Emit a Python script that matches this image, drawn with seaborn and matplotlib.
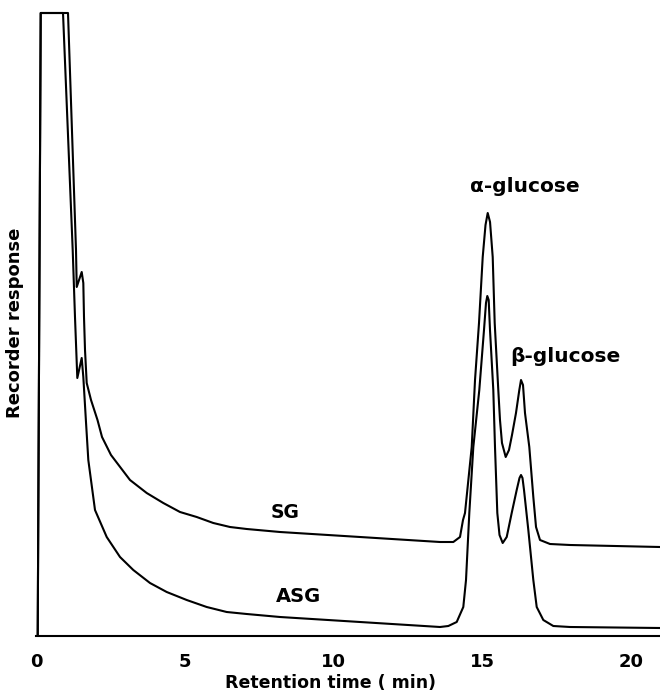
import matplotlib
matplotlib.use("Agg")
import matplotlib.pyplot as plt
import seaborn as sns
import numpy as np
import pandas as pd

# -------------------------
# Chromatogram traces (time in min, recorder response in chart units)
# -------------------------

sg_time = [
    0.044, 0.145, 1.063, 1.332, 1.356, 1.524, 1.578, 1.601, 1.635, 1.692,
    1.837, 2.055, 2.207, 2.509, 3.148, 3.710, 4.268, 4.830, 5.392, 5.950,
    6.512, 7.074, 8.194, 13.576, 14.023, 14.248, 14.349, 14.416, 14.642,
    14.753, 14.887, 15.012, 15.106, 15.180, 15.258, 15.348, 15.415, 15.536,
    15.593, 15.660, 15.785, 15.896, 15.997, 16.131, 16.243, 16.300, 16.367,
    16.434, 16.579, 16.714, 16.805, 16.939, 17.276, 17.949, 20.975
]
sg_resp = [
    0, 623, 623, 386, 349, 364, 353, 319, 286, 253,
    236, 216, 199, 181, 156, 143, 133, 124, 119, 113,
    109, 107, 104, 94, 94, 99, 116, 123, 189,
    256, 313, 379, 411, 423, 414, 379, 313, 246,
    216, 193, 179, 186, 201, 223, 246, 256, 251,
    223, 189, 139, 109, 96, 92, 91, 89
]

asg_time = [
    0.044, 0.145, 0.895, 1.221, 1.298, 1.376, 1.524, 1.578, 1.668, 1.746,
    1.971, 2.365, 2.812, 3.259, 3.821, 4.383, 5.056, 5.728, 6.401, 7.074,
    8.194, 13.576, 13.855, 14.137, 14.359, 14.450, 14.561, 14.696, 14.897,
    15.055, 15.122, 15.166, 15.213, 15.257, 15.368, 15.425, 15.503, 15.577,
    15.684, 15.819, 15.987, 16.155, 16.249, 16.300, 16.350, 16.401, 16.546,
    16.714, 16.828, 17.050, 17.386, 17.948, 20.975
]
asg_resp = [
    0, 623, 623, 386, 319, 258, 278, 259, 214, 176,
    126, 99, 79, 66, 53, 44, 36, 29, 24, 22,
    19, 9, 10, 14, 29, 56, 123, 189, 246,
    306, 333, 340, 336, 306, 246, 189, 123, 101,
    93, 99, 123, 146, 158, 161, 158, 146, 106,
    56, 29, 16, 10, 9, 8
]

x_ticks = [0, 5, 10, 15, 20]

sg = pd.DataFrame({'time': sg_time, 'resp': sg_resp, 'sample': 'SG'})
asg = pd.DataFrame({'time': asg_time, 'resp': asg_resp, 'sample': 'ASG'})

sns.set_style('white')
plt.rcParams['font.family'] = ['DejaVu Sans']
plt.rcParams['text.color'] = 'black'

fig = plt.figure(figsize=(6.6, 6.91), dpi=100)
ax = fig.add_axes([36.4 / 660, 55 / 691, 623.6 / 660, 636 / 691])

for df in (sg, asg):
    sns.lineplot(
        data=df,
        x='time',
        y='resp',
        sort=False,
        estimator=None,
        color='black',
        linewidth=1.5,
        ax=ax
    )

ax.set_xlim(0, 20.975)
ax.set_ylim(0, 636)

for side in ('top', 'right', 'left'):
    ax.spines[side].set_visible(False)
ax.spines['bottom'].set_linewidth(1.5)
ax.spines['bottom'].set_color('black')

ax.set_xticks(x_ticks)
ax.set_xticklabels([str(t) for t in x_ticks], fontsize=13, fontweight='bold')
ax.set_yticks([])
ax.tick_params(axis='x', direction='in', length=12, width=1.3, pad=12,
               colors='black')

ax.set_xlabel('Retention time ( min)', fontsize=12.5, fontweight='bold',
              color='black')
ax.set_ylabel('Recorder response', fontsize=13, fontweight='bold',
              color='black')
ax.xaxis.set_label_coords(0.472, -0.074)
ax.xaxis.label.set_va('center')
ax.yaxis.set_label_coords(-0.034, 0.492)
ax.yaxis.label.set_va('center')

# -------------------------
# Peak and trace labels
# -------------------------

ax.text(16.43, 449, 'α-glucose', fontsize=14.5, fontweight='bold',
        ha='center', va='center')
ax.text(17.78, 279, 'β-glucose', fontsize=14.5, fontweight='bold',
        ha='center', va='center')
ax.text(8.36, 124, 'SG', fontsize=13.5, fontweight='bold',
        ha='center', va='center')
ax.text(8.83, 39, 'ASG', fontsize=14, fontweight='bold',
        ha='center', va='center')

plt.savefig('out.png', dpi=100)
plt.close()
